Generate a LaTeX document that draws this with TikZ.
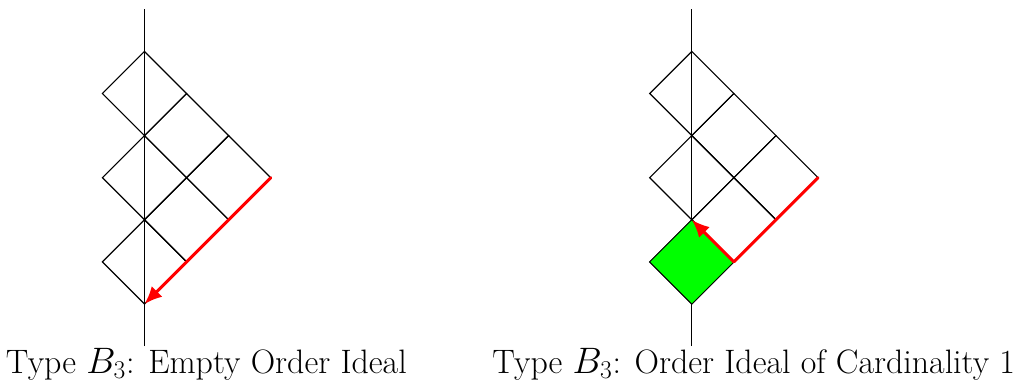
\documentclass[tikz,border=0pt]{standalone}
\usetikzlibrary{arrows.meta}
\begin{document}
\begin{tikzpicture}[x=1cm,y=1cm,
  cell/.style={draw=black,line width=0.8pt},
  axisline/.style={draw=black,line width=0.8pt},
  idealcell/.style={fill=green,draw=black,line width=0.5pt},
  redpath/.style={draw=red,line width=2pt,line cap=round,line join=round},
  redarrow/.style={redpath,-{Latex[length=4.2mm,width=3.6mm]}},
  lab/.style={anchor=base,inner sep=0pt,font=\fontsize{22.9}{27}\selectfont}]
\useasboundingbox (-3.432,-1.876) rectangle (20.677,7.221);
\foreach \o in {0,13}{
  \begin{scope}[xshift=\o cm]
    \foreach \cx/\cy in {0/5,1/4,2/3,0/3,1/2,0/1}{
      \draw[cell] (\cx,\cy-1) -- (\cx+1,\cy) -- (\cx,\cy+1) -- (\cx-1,\cy) -- cycle;
    }
    \draw[axisline] (0,-1) -- (0,7);
  \end{scope}
}
% green cell of the right diagram (covers the axis)
\draw[idealcell] (13,0) -- (14,1) -- (13,2) -- (12,1) -- cycle;
% named corners for the red paths
\coordinate (La) at (3,3);
\coordinate (Lb) at (2,2);
\coordinate (Lc) at (1,1);
\coordinate (Ld) at (0,0);
\coordinate (Ra) at (16,3);
\coordinate (Rb) at (15,2);
\coordinate (Rc) at (14,1);
\coordinate (Rd) at (13,2);
\draw[redarrow] (La) -- (Lb) -- (Lc) -- (Ld);
\draw[redarrow] (Ra) -- (Rb) -- (Rc) -- (Rd);
\node[lab] (labL) at (1.47,-1.64) {Type $B_3$: Empty Order Ideal};
\node[lab] (labR) at (14.47,-1.64) {Type $B_3$: Order Ideal of Cardinality 1};
\end{tikzpicture}
\end{document}
